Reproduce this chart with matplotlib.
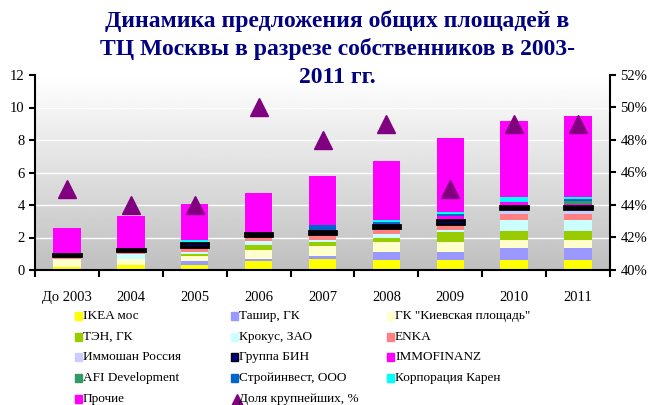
import numpy as np
import matplotlib.pyplot as plt
from matplotlib.patches import Rectangle
from matplotlib.lines import Line2D

plt.rcParams['font.family'] = ['Liberation Serif', 'DejaVu Serif']

years = ['До 2003', '2004', '2005', '2006', '2007', '2008', '2009', '2010', '2011']

# stacked components, mln sq. m
owners = ['IKEA мос', 'Ташир, ГК', 'ГК "Киевская площадь"', 'ТЭН, ГК', 'Крокус, ЗАО', 'ENKA',
          'Иммошан Россия', 'Группа БИН', 'IMMOFINANZ', 'AFI Development',
          'Стройинвест, ООО', 'Корпорация Карен', 'Прочие']
ikea = [0.2, 0.3, 0.3, 0.58, 0.68, 0.62, 0.62, 0.62, 0.62]
tashir = [0.0, 0.0, 0.25, 0.08, 0.18, 0.5, 0.5, 0.74, 0.74]
kiev = [0.45, 0.4, 0.3, 0.6, 0.62, 0.62, 0.62, 0.5, 0.5]
ten = [0.0, 0.0, 0.12, 0.25, 0.25, 0.25, 0.58, 0.56, 0.56]
crocus = [0.0, 0.27, 0.15, 0.27, 0.12, 0.2, 0.12, 0.68, 0.68]
enka = [0.2, 0.2, 0.3, 0.3, 0.37, 0.37, 0.37, 0.37, 0.37]
immochan = [0.0, 0.0, 0.0, 0.0, 0.0, 0.0, 0.0, 0.31, 0.31]
bin_grp = [0.12, 0.12, 0.25, 0.2, 0.15, 0.22, 0.25, 0.18, 0.18]
immofinanz = [0.0, 0.0, 0.0, 0.0, 0.12, 0.08, 0.25, 0.23, 0.12]
afi = [0.0, 0.0, 0.0, 0.0, 0.0, 0.0, 0.0, 0.0, 0.15]
stroy = [0.0, 0.0, 0.0, 0.0, 0.25, 0.12, 0.12, 0.0, 0.15]
karen = [0.0, 0.0, 0.15, 0.0, 0.0, 0.12, 0.12, 0.29, 0.12]
other = [1.63, 2.05, 2.25, 2.45, 3.03, 3.58, 4.57, 4.68, 4.96]
share = [45, 44, 44, 50, 48, 49, 45, 49, 49]

series = [ikea, tashir, kiev, ten, crocus, enka, immochan, bin_grp, immofinanz, afi, stroy, karen, other]
colors = ['#FFFF00', '#9999FF', '#FFFFCC', '#99CC00', '#CCFFFF', '#FF8080', '#CCCCFF',
          '#000080', '#FF00FF', '#339966', '#0066CC', '#00FFFF', '#FF00FF']

fig = plt.figure(figsize=(6.5, 4.05), dpi=100)
ax = fig.add_axes([35 / 650, 135 / 405, 575 / 650, 195 / 405])

# gradient plot area
grad = np.linspace(1.0, 0.75, 256).reshape(-1, 1)
ax.imshow(grad, extent=[0, 1, 0, 1], transform=ax.transAxes, cmap='gray', vmin=0, vmax=1,
          aspect='auto', zorder=0)

x = np.arange(len(years))
bottom = np.zeros(len(years))
for name, vals, c in zip(owners, series, colors):
    vals = np.array(vals)
    if name == 'Группа БИН':
        ax.bar(x, vals, 0.43, bottom=bottom, color=c, edgecolor='black', linewidth=2, zorder=3)
    else:
        ax.bar(x, vals, 0.43, bottom=bottom, color=c, linewidth=0, zorder=2)
    bottom += vals

ax.set_xlim(-0.5, len(years) - 0.5)
ax.set_ylim(0, 12)
ax.set_yticks(range(0, 13, 2))
for yv in range(2, 13, 2):
    ax.axhline(yv, color='white', lw=1, zorder=1)
ax.set_xticks(x)
ax.set_xticklabels(years)
ax.set_xticks(np.arange(-0.5, len(years), 1), minor=True)
ax.tick_params(axis='x', which='major', length=0, labelsize=10.5, pad=15)
ax.tick_params(axis='x', which='minor', length=5, width=1.5, direction='out')
ax.tick_params(axis='y', length=4, width=1.5, labelsize=10.5)
ax.spines['top'].set_visible(False)
ax.spines['right'].set_visible(False)
for s in ['left', 'bottom']:
    ax.spines[s].set_linewidth(1.5)

ax2 = ax.twinx()
ax2.plot(x, share, linestyle='none', marker='^', color='#800080', markersize=13, zorder=5)
ax2.set_ylim(40, 52)
ax2.set_yticks(range(40, 53, 2))
ax2.set_yticklabels([f'{v}%' for v in range(40, 53, 2)])
ax2.tick_params(axis='y', length=4, width=1.5, labelsize=10.5)
ax2.spines['top'].set_visible(False)
ax2.spines['left'].set_visible(False)
ax2.spines['bottom'].set_visible(False)
ax2.spines['right'].set_linewidth(1.5)

fig.text(337 / 650, 1 - 10 / 405,
         'Динамика предложения общих площадей в\nТЦ Москвы в разрезе собственников в 2003-\n2011 гг.',
         ha='center', va='top', fontsize=17, fontweight='bold', color='#000080', linespacing=1.38)

# legend, row-wise in three columns
entries = list(zip(owners, colors)) + [('Доля крупнейших, %', None)]
col_x = [78, 234, 390]
for i, (name, c) in enumerate(entries):
    r, cidx = divmod(i, 3)
    px = col_x[cidx]
    py = 316 + r * 20.7
    if c is None:
        fig.lines.append(Line2D([(px + 3) / 650], [1 - (py + 1) / 405], marker='^', color='#800080',
                                markersize=8, linestyle='none', transform=fig.transFigure))
    else:
        ec = 'black' if name == 'Группа БИН' else c
        fig.patches.append(Rectangle(((px - 3) / 650, 1 - (py + 4) / 405), 7 / 650, 8 / 405,
                                     facecolor=c, edgecolor=ec, lw=1, transform=fig.transFigure))
    fig.text((px + 5) / 650, 1 - py / 405, name, fontsize=9.5, va='center', ha='left')

fig.savefig('out.png', dpi=100)
